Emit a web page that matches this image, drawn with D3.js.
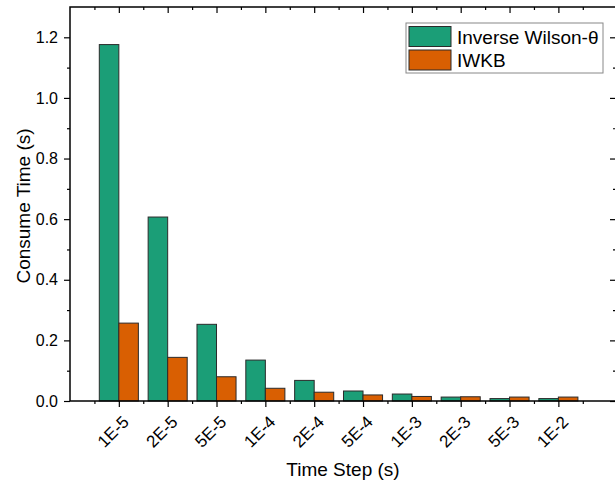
<!DOCTYPE html>
<html>
<head>
<meta charset="utf-8">
<script src="https://cdn.jsdelivr.net/npm/d3@7"></script>
<style>
  html, body { margin: 0; padding: 0; background: #fff; }
  svg { display: block; font-family: "Liberation Sans", Arial, sans-serif; }
</style>
</head>
<body>
<svg id="chart" width="615" height="482"></svg>
<script>
// Time-step categories and measured consume times (seconds)
const timeSteps = ["1E-5", "2E-5", "5E-5", "1E-4", "2E-4", "5E-4", "1E-3", "2E-3", "5E-3", "1E-2"];
const wilsonTimes = [1.176, 0.607, 0.253, 0.135, 0.068, 0.033, 0.023, 0.013, 0.008, 0.008];
const iwkbTimes   = [0.257, 0.144, 0.080, 0.042, 0.029, 0.020, 0.015, 0.014, 0.013, 0.013];
const seriesNames = ["Inverse Wilson-θ", "IWKB"];
const seriesColors = ["#1b9e77", "#d95f02"];
const yTicks = [0.0, 0.2, 0.4, 0.6, 0.8, 1.0, 1.2];

const svg = d3.select("#chart");
const m = { left: 70, right: 616, top: 7, bottom: 401 };

// Category positions on a numeric axis: category i sits at i+1
const x = d3.scaleLinear().domain([0, 11.18]).range([m.left, m.right]);
const y = d3.scaleLinear().domain([0, 1.3]).range([m.bottom, m.top]);
const barW = x(0.4) - x(0);

const g = svg.append("g");

// bars
const series = [wilsonTimes, iwkbTimes];
series.forEach((vals, s) => {
  g.selectAll(".bar" + s)
    .data(vals)
    .enter().append("rect")
    .attr("x", (d, i) => s === 0 ? x(i + 1) - barW : x(i + 1))
    .attr("y", d => y(d))
    .attr("width", barW)
    .attr("height", d => y(0) - y(d))
    .attr("fill", seriesColors[s])
    .attr("stroke", "#2b2b2b")
    .attr("stroke-width", 1);
});

const majorX = timeSteps.map((d, i) => i + 1);
const minorX = d3.range(0.5, 11.1, 1);
const minorY = d3.range(0.1, 1.3, 0.2);

// bottom axis
const axB = g.append("g").attr("transform", `translate(0,${m.bottom})`);
axB.call(d3.axisBottom(x).tickValues(minorX).tickSize(3).tickFormat(""))
  .call(a => a.select(".domain").remove());
axB.append("g").call(d3.axisBottom(x).tickValues(majorX).tickSize(6).tickFormat(""))
  .call(a => a.select(".domain").remove());
// top axis (inward ticks)
const axT = g.append("g").attr("transform", `translate(0,${m.top})`);
axT.call(d3.axisBottom(x).tickValues(minorX).tickSize(3).tickFormat(""))
  .call(a => a.select(".domain").remove());
axT.append("g").call(d3.axisBottom(x).tickValues(majorX).tickSize(6).tickFormat(""))
  .call(a => a.select(".domain").remove());
// left axis
const axL = g.append("g").attr("transform", `translate(${m.left},0)`);
axL.call(d3.axisLeft(y).tickValues(minorY).tickSize(3).tickFormat(""))
  .call(a => a.select(".domain").remove());
axL.append("g").call(d3.axisLeft(y).tickValues(yTicks).tickSize(6).tickPadding(6).tickFormat(d3.format(".1f")))
  .call(a => a.select(".domain").remove())
  .call(a => a.selectAll("text").attr("font-size", 16).attr("fill", "#000").attr("font-family", "Liberation Sans, Arial, sans-serif"));
// right axis (inward ticks)
const axR = g.append("g").attr("transform", `translate(${m.right},0)`);
axR.call(d3.axisLeft(y).tickValues(minorY).tickSize(3).tickFormat(""))
  .call(a => a.select(".domain").remove());
axR.append("g").call(d3.axisLeft(y).tickValues(yTicks).tickSize(6).tickFormat(""))
  .call(a => a.select(".domain").remove());

g.selectAll(".tick line").attr("stroke", "#000").attr("stroke-width", 1.2);

// frame
g.append("rect")
  .attr("x", m.left).attr("y", m.top)
  .attr("width", m.right - m.left).attr("height", m.bottom - m.top)
  .attr("fill", "none").attr("stroke", "#000").attr("stroke-width", 1.5);

// rotated category labels
g.selectAll(".xlab")
  .data(timeSteps)
  .enter().append("text")
  .attr("transform", (d, i) => `translate(${x(i + 1) + 11},${m.bottom + 22}) rotate(-45)`)
  .attr("text-anchor", "end")
  .attr("font-size", 17)
  .text(d => d);

// axis titles
svg.append("text")
  .attr("x", (m.left + m.right) / 2 - 0).attr("y", 476)
  .attr("text-anchor", "middle").attr("font-size", 19)
  .text("Time Step (s)");
svg.append("text")
  .attr("transform", "translate(30,206) rotate(-90)")
  .attr("text-anchor", "middle").attr("font-size", 19)
  .text("Consume Time (s)");

// legend
const lg = svg.append("g").attr("transform", "translate(406,23)");
lg.append("rect").attr("width", 197).attr("height", 50)
  .attr("fill", "#fff").attr("stroke", "#888").attr("stroke-width", 1);
seriesNames.forEach((name, s) => {
  lg.append("rect").attr("x", 3).attr("y", 3.5 + s * 23.5).attr("width", 42).attr("height", 20)
    .attr("fill", seriesColors[s]).attr("stroke", "#2b2b2b").attr("stroke-width", 1);
  lg.append("text").attr("x", 51).attr("y", 20.5 + s * 23.5)
    .attr("font-size", 19).text(name);
});
</script>
</body>
</html>
